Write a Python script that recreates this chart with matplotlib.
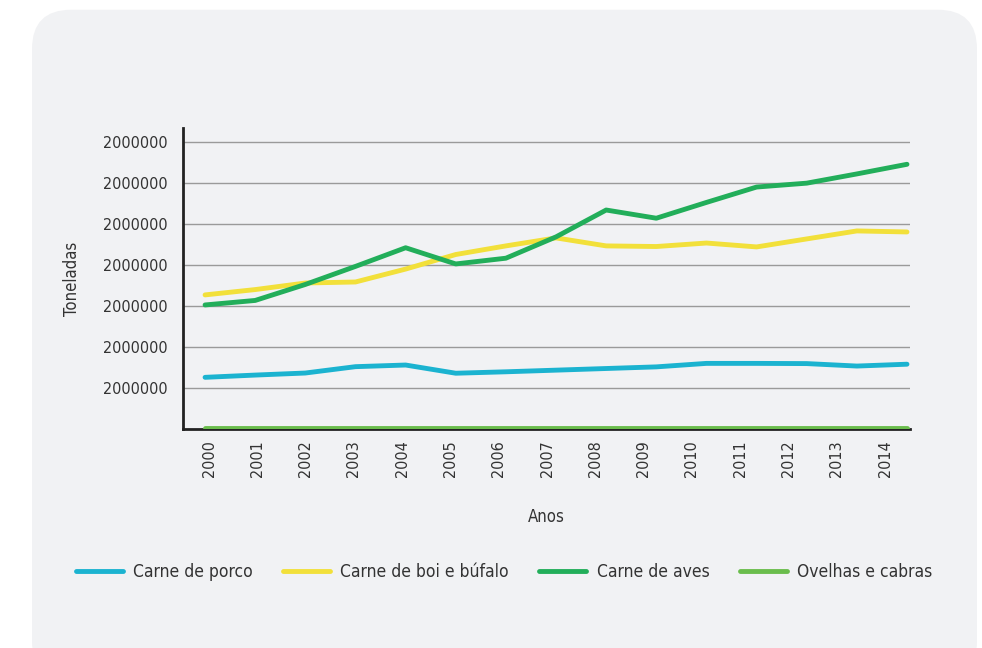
import numpy as np
import matplotlib.pyplot as plt
from matplotlib.patches import FancyBboxPatch

plt.rcParams['font.family'] = ['DejaVu Sans']
plt.rcParams['font.stretch'] = 'condensed'

# Data (toneladas)
anos = ['2000', '2001', '2002', '2003', '2004', '2005', '2006', '2007',
        '2008', '2009', '2010', '2011', '2012', '2013', '2014']
porco = [2.52e6, 2.63e6, 2.73e6, 3.04e6, 3.12e6, 2.72e6, 2.79e6, 2.87e6,
         2.95e6, 3.03e6, 3.20e6, 3.20e6, 3.19e6, 3.07e6, 3.16e6]
boi = [6.54e6, 6.80e6, 7.12e6, 7.17e6, 7.80e6, 8.51e6, 8.93e6, 9.32e6,
       8.93e6, 8.90e6, 9.07e6, 8.88e6, 9.27e6, 9.66e6, 9.61e6]
aves = [6.05e6, 6.27e6, 7.05e6, 7.93e6, 8.84e6, 8.05e6, 8.33e6, 9.37e6,
        10.68e6, 10.28e6, 11.05e6, 11.80e6, 11.99e6, 12.44e6, 12.91e6]
ovelhas = [0.05e6] * 15
yticks = [2e6, 4e6, 6e6, 8e6, 10e6, 12e6, 14e6]
ytick_labels = ['2000000'] * 7

x = np.arange(len(anos))

fig = plt.figure(figsize=(9.82, 6.48), dpi=100)
fig.patch.set_facecolor('white')
bg = FancyBboxPatch((32 / 982, -0.05), 945 / 982, 1.035, transform=fig.transFigure,
                    boxstyle='round,pad=0,rounding_size=0.04', facecolor='#f1f2f4',
                    edgecolor='none', zorder=-5, mutation_aspect=982 / 648)
fig.patches.append(bg)

ax = fig.add_axes([183 / 982, 1 - 429 / 648, 727 / 982, 301 / 648])
ax.set_zorder(2)
ax.set_facecolor('none')

lw = 3.5
ax.plot(x, porco, color='#1bb3d0', lw=lw, solid_capstyle='round', label='Carne de porco', zorder=3)
ax.plot(x, boi, color='#f2e03a', lw=lw, solid_capstyle='round', label='Carne de boi e búfalo', zorder=3)
ax.plot(x, aves, color='#22ae5a', lw=lw, solid_capstyle='round', label='Carne de aves', zorder=4)
ax.plot(x, ovelhas, color='#6abd4c', lw=lw, solid_capstyle='round', label='Ovelhas e cabras', zorder=3)

ax.set_xlim(-0.44, 14.06)
ax.set_ylim(0, 14.68e6)
ax.set_yticks(yticks)
ax.set_yticklabels(ytick_labels)
# year labels sit slightly tighter than the data points in the original
ax.set_xticks(0.08 + x * 0.963)
ax.set_xticklabels(anos, rotation=90)
ax.tick_params(axis='both', length=0, labelsize=11.5, colors='#333333')
ax.tick_params(axis='y', pad=11)
ax.tick_params(axis='x', pad=8)
ax.grid(axis='y', color='#9a9a9a', lw=1)
ax.set_axisbelow(True)

for s in ['top', 'right']:
    ax.spines[s].set_visible(False)
ax.spines['left'].set_linewidth(2)
ax.spines['bottom'].set_linewidth(2)
ax.spines['left'].set_color('#222222')
ax.spines['bottom'].set_color('#222222')

ax.set_ylabel('Toneladas', fontsize=12, color='#333333', labelpad=16)
ax.set_xlabel('Anos', fontsize=12, color='#333333', labelpad=22)

fig.legend(loc='center', bbox_to_anchor=(504 / 982, 1 - 572 / 648), ncol=4, frameon=False,
           fontsize=12.5, handlelength=2.7, columnspacing=1.75, handletextpad=0.6,
           labelcolor='#333333')

plt.savefig('out.png', dpi=100)
